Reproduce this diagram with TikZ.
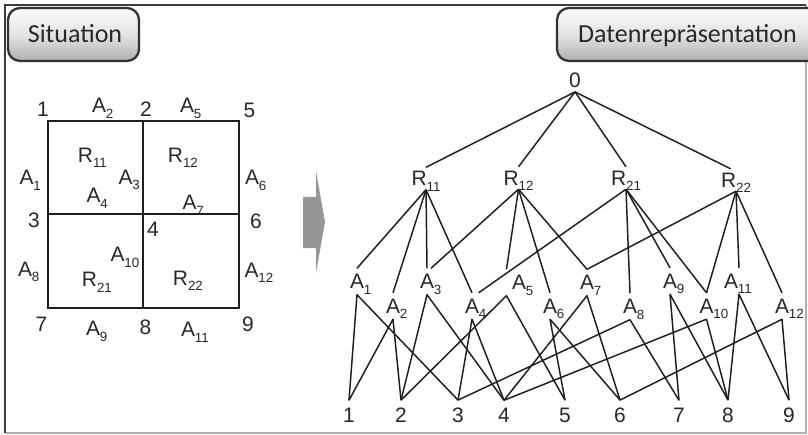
\documentclass[tikz,border=0pt]{standalone}
\usepackage{fontspec}
\setmainfont{Liberation Sans}
\newfontfamily\btnfont{Carlito}
\definecolor{ink}{RGB}{40,40,40}
\definecolor{edgec}{RGB}{30,30,30}
\definecolor{arrowgray}{RGB}{150,150,152}
\definecolor{framedark}{RGB}{60,60,60}
\definecolor{framelight}{RGB}{175,175,175}
\definecolor{btnborder}{RGB}{50,50,50}
\newcommand\subA[1]{\rlap{\raisebox{-4pt}[0pt][0pt]{\fontsize{10}{10}\selectfont #1}}}
\newcommand\subB[1]{\raisebox{-4pt}[0pt][0pt]{\fontsize{10}{10}\selectfont #1}}
\begin{document}
\begin{tikzpicture}[x=0.75pt,y=-0.75pt,
  lbl/.style={inner sep=0pt, outer sep=0pt, text=ink, font=\fontsize{15.7}{16}\selectfont},
  onode/.style={lbl, outer ysep=3pt},
  rnode/.style={lbl, outer ysep=3pt},
  anode/.style={lbl, outer ysep=4.5pt},
  nnode/.style={lbl, outer ysep=6pt},
  gridline/.style={draw=edgec, line width=1.5pt},
  link/.style={draw=edgec, line width=1.1pt, line join=round},
  button/.style={draw=btnborder, line width=1.7pt, rounded corners=9pt,
     top color={rgb,255:red,250;green,250;blue,250}, bottom color={rgb,255:red,175;green,175;blue,175},
     middle color={rgb,255:red,228;green,228;blue,228}},
  btntext/.style={inner sep=0pt, text=ink, font=\btnfont\fontsize{19.5}{20}\selectfont, anchor=base},
]
\useasboundingbox (0,0) rectangle (808,435);
\fill[white] (0,0) rectangle (808,435);
% frame
\draw[framelight, line width=1.5pt] (806,5) -- (806,433) -- (5,433);
\draw[framedark, line width=1.5pt] (5,433) -- (5,5) -- (806,5);
% buttons
\draw[button] (8,8) rectangle (139,61);
\node[btntext] (btnS) at (75,43) {Situation};
\begin{scope}
\clip (0,0) rectangle (808,435);
\draw[button] (557,8) rectangle (830,61);
\end{scope}
\node[btntext] (btnD) at (687.5,43) {Datenrepräsentation};
% situation plan
\draw[gridline] (48,121) rectangle (239,308);
\draw[gridline] (143,121) -- (143,308);
\draw[gridline] (48,214) -- (239,214);
\node[lbl] (p1) at (43,109.5) {1};
\node[lbl] (p2) at (146,109) {2};
\node[lbl] (p5) at (249.5,110) {5};
\node[lbl] (p3) at (34,220.5) {3};
\node[lbl] (p4) at (153,229.5) {4};
\node[lbl] (p6) at (256,221.5) {6};
\node[lbl] (p7) at (41.5,324.5) {7};
\node[lbl] (p8) at (145.5,327.5) {8};
\node[lbl] (p9) at (248,324) {9};
\node[lbl] (la2) at (99,105.5) {A\subA{2}};
\node[lbl] (la5) at (187,105.5) {A\subA{5}};
\node[lbl] (lr11) at (85.5,155) {R\subA{11}};
\node[lbl] (lr12) at (175.5,155) {R\subA{12}};
\node[lbl] (la1) at (26.5,177.5) {A\subA{1}};
\node[lbl] (la3) at (125.5,177) {A\subA{3}};
\node[lbl] (la6) at (252,177.5) {A\subA{6}};
\node[lbl] (la4) at (93.5,195.5) {A\subA{4}};
\node[lbl] (la7) at (189.5,202.5) {A\subA{7}};
\node[lbl] (la10) at (117.5,254.5) {A\subA{10}};
\node[lbl] (la8) at (25,269) {A\subA{8}};
\node[lbl] (la12) at (251.5,270) {A\subA{12}};
\node[lbl] (lr21) at (89.5,279.5) {R\subA{21}};
\node[lbl] (lr22) at (180.5,278) {R\subA{22}};
\node[lbl] (la9) at (93,328.5) {A\subA{9}};
\node[lbl] (la11) at (188,329.5) {A\subA{11}};
% arrow
\fill[arrowgray] (303,197) -- (316,197) -- (316,171) -- (325,222) -- (316,273) -- (316,248) -- (303,248) -- cycle;
% tree nodes
\node[onode] (o) at (575,80.5) {0};
\node[rnode] (r11) at (426,178.5) {R\subB{11}};
\node[rnode] (r12) at (518.5,178) {R\subB{12}};
\node[rnode] (r21) at (626,178) {R\subB{21}};
\node[rnode] (r22) at (736,180) {R\subB{22}};
\node[anode] (a1) at (357,281.5) {A\subA{1}};
\node[anode] (a2) at (393,306) {A\subA{2}};
\node[anode] (a3) at (427,281.5) {A\subA{3}};
\node[anode] (a4) at (472,306) {A\subA{4}};
\node[anode] (a5) at (519,282.5) {A\subA{5}};
\node[anode] (a6) at (550,306) {A\subA{6}};
\node[anode] (a7) at (587,282.5) {A\subA{7}};
\node[anode] (a8) at (630,306.5) {A\subA{8}};
\node[anode] (a9) at (670,281) {A\subA{9}};
\node[anode] (a10) at (706.5,306) {A\subA{10}};
\node[anode] (a11) at (731,281) {A\subA{11}};
\node[anode] (a12) at (782,306) {A\subA{12}};
\node[nnode] (n1) at (349,415.5) {1};
\node[nnode] (n2) at (401,415.5) {2};
\node[nnode] (n3) at (458,415.5) {3};
\node[nnode] (n4) at (504,415.5) {4};
\node[nnode] (n5) at (565,415.5) {5};
\node[nnode] (n6) at (620,415.5) {6};
\node[nnode] (n7) at (679,415.5) {7};
\node[nnode] (n8) at (728,415.5) {8};
\node[nnode] (n9) at (789,415.5) {9};
% root to regions
\draw[link] (o.south) -- (r11.north);
\draw[link] (o.south) -- (r12.north);
\draw[link] (o.south) -- (r21.north);
\draw[link] (o.south) -- ([xshift=-4pt]r22.north);
% regions to edges
\draw[link] (r11.south) -- (a1.north);
\draw[link] (r11.south) -- (a2.north);
\draw[link] (r11.south) -- (a3.north);
\draw[link] (r11.south) -- (a4.north);
\draw[link] (r12.south) -- ([xshift=3pt]a3.north);
\draw[link] (r12.south) -- ([xshift=-9.4pt]a5.north);
\draw[link] (r12.south) -- (a6.north);
\draw[link] (r12.south) -- (a7.north);
\draw[link] (r21.south) -- ([xshift=5pt]a4.north);
\draw[link] (r21.south) -- (a8.north);
\draw[link] (r21.south) -- (a9.north);
\draw[link] (r21.south) -- (a10.north);
\draw[link] (r22.south) -- (a7.north);
\draw[link] (r22.south) -- (a10.north);
\draw[link] (r22.south) -- ([xshift=6pt]a11.north);
\draw[link] (r22.south) -- (a12.north);
% edges to vertices
\draw[link] (n1.north) -- (a1.south) -- (n3.north);
\draw[link] (n1.north) -- (a2.south) -- (n2.north);
\draw[link] (n2.north) -- (a3.south) -- (n4.north);
\draw[link] (n3.north) -- (a4.south) -- (n4.north);
\draw[link] (n2.north) -- ([xshift=-9.4pt]a5.south) -- (n5.north);
\draw[link] (n5.north) -- (a6.south) -- (n6.north);
\draw[link] (n4.north) -- (a7.south) -- (n6.north);
\draw[link] (n3.north) -- (a8.south) -- (n7.north);
\draw[link] (n7.north) -- (a9.south) -- (n8.north);
\draw[link] (n4.north) -- (a10.south) -- (n8.north);
\draw[link] (n8.north) -- ([xshift=6pt]a11.south) -- (n9.north);
\draw[link] (n6.north) -- (a12.south) -- (n9.north);
\end{tikzpicture}
\end{document}
